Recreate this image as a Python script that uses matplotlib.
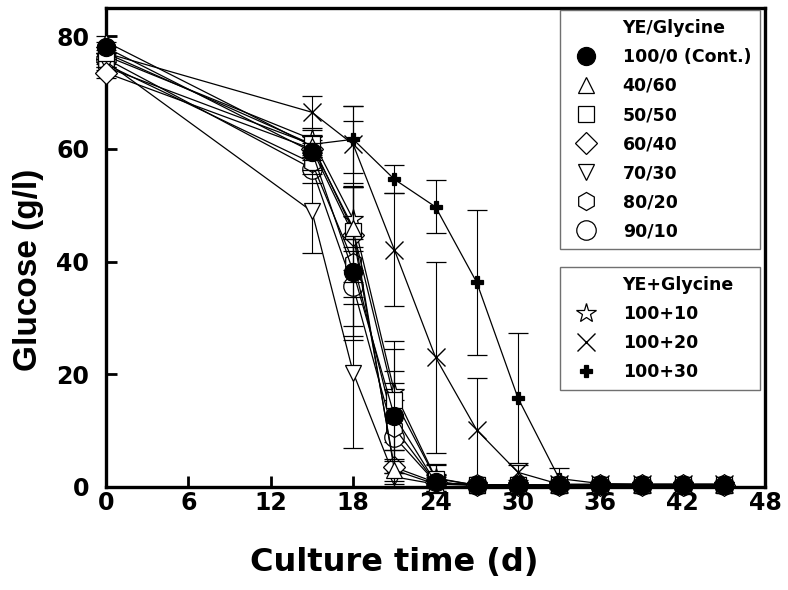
import numpy as np
import matplotlib.pyplot as plt
from matplotlib.lines import Line2D

plt.rcParams['font.family'] = ['DejaVu Sans']
plt.rcParams['font.weight'] = 'bold'

# Culture time (d)
days = [0, 15, 18, 21, 24, 27, 30, 33, 36, 39, 42, 45]

# Glucose (g/l), YE/Glycine ratios
glc_100_0 = [78.0, 59.5, 38.2, 12.6, 0.8, 0.4, 0.3, 0.3, 0.3, 0.3, 0.3, 0.3]
glc_40_60 = [79.0, 60.5, 46.0, 3.0, 0.5, 0.3, 0.3, 0.3, 0.3, 0.3, 0.3, 0.3]
glc_50_50 = [77.0, 60.8, 45.5, 15.5, 1.5, 0.3, 0.3, 0.3, 0.3, 0.3, 0.3, 0.3]
glc_60_40 = [73.5, 60.0, 44.8, 3.5, 0.8, 0.3, 0.3, 0.3, 0.3, 0.3, 0.3, 0.3]
glc_70_30 = [75.5, 48.9, 20.3, 1.8, 0.5, 0.4, 0.4, 0.3, 0.3, 0.3, 0.3, 0.3]
glc_80_20 = [75.0, 57.5, 40.0, 10.5, 0.8, 0.3, 0.3, 0.3, 0.3, 0.3, 0.3, 0.3]
glc_90_10 = [76.0, 56.5, 35.6, 8.9, 0.8, 0.3, 0.3, 0.3, 0.3, 0.3, 0.3, 0.3]

# Glucose (g/l), YE + Glycine
glc_100_10 = [76.5, 61.7, 47.5, 16.9, 1.6, 0.3, 0.3, 0.3, 0.3, 0.3, 0.3, 0.3]
glc_100_20 = [77.0, 66.5, 60.8, 42.1, 23.0, 10.1, 2.6, 0.5, 0.5, 0.5, 0.5, 0.5]
glc_100_30 = [74.5, 60.8, 61.7, 54.6, 49.7, 36.3, 15.8, 1.5, 0.6, 0.5, 0.5, 0.5]

# standard deviations
sd_100_0 = [1.0, 1.5, 5.8, 8.0, 0.5, 0.2, 0.2, 0.2, 0.2, 0.2, 0.2, 0.2]
sd_40_60 = [1.0, 2.0, 7.5, 2.0, 0.5, 0.2, 0.2, 0.2, 0.2, 0.2, 0.2, 0.2]
sd_50_50 = [1.0, 1.5, 19.5, 9.0, 2.5, 0.2, 0.2, 0.2, 0.2, 0.2, 0.2, 0.2]
sd_60_40 = [1.0, 1.5, 8.5, 3.0, 0.5, 0.2, 0.2, 0.2, 0.2, 0.2, 0.2, 0.2]
sd_70_30 = [1.0, 7.3, 13.4, 2.0, 0.5, 0.2, 0.2, 0.2, 0.2, 0.2, 0.2, 0.2]
sd_80_20 = [1.0, 2.0, 13.2, 8.0, 1.5, 0.2, 0.2, 0.2, 0.2, 0.2, 0.2, 0.2]
sd_90_10 = [1.0, 2.5, 7.0, 6.5, 1.0, 0.2, 0.2, 0.2, 0.2, 0.2, 0.2, 0.2]
sd_100_10 = [1.0, 1.6, 5.7, 9.0, 2.3, 0.2, 0.2, 0.2, 0.2, 0.2, 0.2, 0.2]
sd_100_20 = [1.0, 2.8, 6.9, 10.0, 17.0, 9.3, 1.3, 0.3, 0.3, 0.3, 0.3, 0.3]
sd_100_30 = [1.0, 1.5, 6.0, 2.5, 4.7, 12.8, 11.6, 1.8, 0.3, 0.3, 0.3, 0.3]

ratio_labels = ['100/0 (Cont.)', '40/60', '50/50', '60/40', '70/30', '80/20', '90/10']
add_labels = ['100+10', '100+20', '100+30']

ratio_series = [glc_100_0, glc_40_60, glc_50_50, glc_60_40, glc_70_30, glc_80_20, glc_90_10]
ratio_sd = [sd_100_0, sd_40_60, sd_50_50, sd_60_40, sd_70_30, sd_80_20, sd_90_10]
add_series = [glc_100_10, glc_100_20, glc_100_30]
add_sd = [sd_100_10, sd_100_20, sd_100_30]

ratio_styles = [
    dict(marker='o', ms=13, mfc='black'),
    dict(marker='^', ms=12, mfc='white'),
    dict(marker='s', ms=11, mfc='white'),
    dict(marker='D', ms=11, mfc='white'),
    dict(marker='v', ms=12, mfc='white'),
    dict(marker='h', ms=13, mfc='white'),
    dict(marker='o', ms=14, mfc='white'),
]
add_styles = [
    dict(marker='*', ms=15, mfc='white'),
    dict(marker='x', ms=12.5, mfc='none', mew=1.0),
    dict(marker='P', ms=8, mfc='black'),
]

fig = plt.figure(figsize=(7.88, 5.9), dpi=100)
ax = fig.add_axes([0.1345, 0.1746, 0.8365, 0.8118])


def draw(series, sds, styles, labels, z0):
    handles = []
    for i, (y, e, st, lab) in enumerate(zip(series, sds, styles, labels)):
        ax.errorbar(days, y, yerr=e, fmt='none', ecolor='black', elinewidth=0.8,
                    capsize=7, capthick=0.9, zorder=z0 + i, clip_on=False)
        st = dict(st)
        mew = st.pop('mew', 0.9)
        h, = ax.plot(days, y, color='black', lw=0.9, mec='black', mew=mew,
                     label=lab, zorder=z0 + i + 0.5, clip_on=False, **st)
        handles.append(h)
    return handles


h_add = draw(add_series, add_sd, add_styles, add_labels, 3)
h_ratio = draw(ratio_series[::-1], ratio_sd[::-1], ratio_styles[::-1], ratio_labels[::-1], 10)[::-1]

ax.set_xlim(0, 48)
ax.set_ylim(0, 85)
ax.set_xticks(np.arange(0, 49, 6))
ax.set_yticks([0, 20, 40, 60, 80])
ax.tick_params(direction='in', length=8, width=2, labelsize=17)
ax.tick_params(axis='x', pad=3)
ax.tick_params(axis='y', pad=12)
for lab in ax.get_xticklabels() + ax.get_yticklabels():
    lab.set_fontweight('bold')
for sp in ax.spines.values():
    sp.set_linewidth(2.4)

ax.set_xlabel('Culture time (d)', fontsize=23, fontweight='bold')
ax.set_ylabel('Glucose (g/l)', fontsize=24, fontweight='bold',
              fontfamily='Liberation Sans')
ax.xaxis.set_label_coords(0.437, -0.125)
ax.yaxis.set_label_coords(-0.094, 0.453)

blank = Line2D([], [], linestyle='none', marker='none')
leg_kw = dict(frameon=True, fancybox=False, edgecolor='#707070', framealpha=1,
              prop={'size': 12.5, 'weight': 'bold'}, numpoints=1, handlelength=2.0,
              handletextpad=1.1, labelspacing=0.64, borderpad=0.5, borderaxespad=0,
              mode='expand', loc='upper left')

leg1 = ax.legend([blank] + h_ratio, ['YE/Glycine'] + ratio_labels,
                 bbox_to_anchor=(0.689, 0.9958, 0.3035, 0), **leg_kw)
leg1.get_frame().set_linewidth(1.0)
for h in leg1.legend_handles[1:]:
    h.set_linestyle('none')
ax.add_artist(leg1)

leg2 = ax.legend([blank] + h_add, ['YE+Glycine'] + add_labels,
                 bbox_to_anchor=(0.689, 0.459, 0.3035, 0), **leg_kw)
leg2.get_frame().set_linewidth(1.0)
for h in leg2.legend_handles[1:]:
    h.set_linestyle('none')

fig.savefig('out.png', dpi=100)
